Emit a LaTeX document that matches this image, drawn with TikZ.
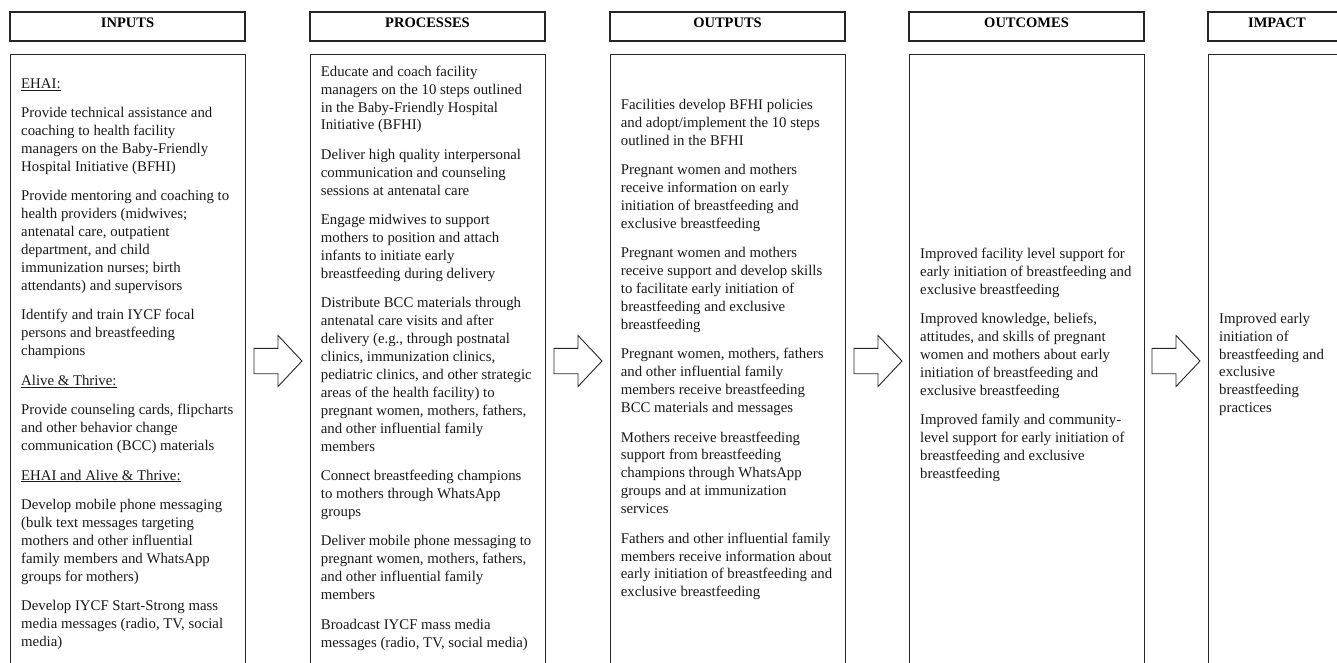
\documentclass[tikz,border=0pt]{standalone}
\usepackage{fontspec}
\setmainfont{Liberation Serif}
\newcommand{\pgap}{\\[11.6pt]}
\newcommand{\fl}{\rule{0pt}{10.5pt}}
\begin{document}
\begin{tikzpicture}[x=1pt,y=-1pt,
  hdr/.style={draw=black!85, line width=1.3pt, minimum width=235pt, minimum height=29pt, inner sep=0pt, text height=10pt, text depth=7pt, font=\bfseries\fontsize{14.5}{17}\selectfont},
  colbox/.style={draw=black!85, line width=1.3pt, minimum width=235pt, minimum height=700pt, anchor=north west, inner sep=0pt},
  body/.style={anchor=north west, align=left, inner sep=0pt, font=\fontsize{14.8}{17.9}\selectfont, text=black!90},
  blockarrow/.style={draw=black!85, line width=0.9pt},
  barrow/.pic={\draw[blockarrow] (0,-12.7) -- (24,-12.7) -- (24,-25.5) -- (48,0) -- (24,25.5) -- (24,12.7) -- (0,12.7) -- cycle;}
]
\useasboundingbox (0,0) rectangle (1337,663);
\clip (0,0) rectangle (1337,663);

% headers
\node[hdr] (h1) at (127.5,26.5) {INPUTS};
\node[hdr] (h2) at (427.5,26.5) {PROCESSES};
\node[hdr] (h3) at (727.5,26.5) {OUTPUTS};
\node[hdr] (h4) at (1026.5,26.5) {OUTCOMES};
\node[hdr, minimum width=138pt] (h5) at (1277,26.5) {IMPACT};

% column boxes
\node[colbox] (b1) at (10,54) {};
\node[colbox] (b2) at (310,54) {};
\node[colbox] (b3) at (610,54) {};
\node[colbox] (b4) at (909,54) {};
\node[colbox, minimum width=138pt] (b5) at (1208,54) {};

% arrows
\pic at (254,361) {barrow};
\pic at (554,361) {barrow};
\pic at (854,361) {barrow};
\pic at (1152,361) {barrow};

% texts
\node[body] (t1) at (21,77.5) {\fl\underline{EHAI:}\pgap
Provide technical assistance and\\
coaching to health facility\\
managers on the Baby-Friendly\\
Hospital Initiative (BFHI)\pgap
Provide mentoring and coaching to\\
health providers (midwives;\\
antenatal care, outpatient\\
department, and child\\
immunization nurses; birth\\
attendants) and supervisors\pgap
Identify and train IYCF focal\\
persons and breastfeeding\\
champions\pgap
\underline{Alive \& Thrive:}\pgap
Provide counseling cards, flipcharts\\
and other behavior change\\
communication (BCC) materials\pgap
\underline{EHAI and Alive \& Thrive:}\pgap
Develop mobile phone messaging\\
(bulk text messages targeting\\
mothers and other influential\\
family members and WhatsApp\\
groups for mothers)\pgap
Develop IYCF Start-Strong mass\\
media messages (radio, TV, social\\
media)};

\node[body] (t2) at (320.7,65.5) {\fl Educate and coach facility\\
managers on the 10 steps outlined\\
in the Baby-Friendly Hospital\\
Initiative (BFHI)\pgap
Deliver high quality interpersonal\\
communication and counseling\\
sessions at antenatal care\pgap
Engage midwives to support\\
mothers to position and attach\\
infants to initiate early\\
breastfeeding during delivery\pgap
Distribute BCC materials through\\
antenatal care visits and after\\
delivery (e.g., through postnatal\\
clinics, immunization clinics,\\
pediatric clinics, and other strategic\\
areas of the health facility) to\\
pregnant women, mothers, fathers,\\
and other influential family\\
members\pgap
Connect breastfeeding champions\\
to mothers through WhatsApp\\
groups\pgap
Deliver mobile phone messaging to\\
pregnant women, mothers, fathers,\\
and other influential family\\
members\pgap
Broadcast IYCF mass media\\
messages (radio, TV, social media)};

\node[body] (t3) at (620.7,98.5) {\fl Facilities develop BFHI policies\\
and adopt/implement the 10 steps\\
outlined in the BFHI\pgap
Pregnant women and mothers\\
receive information on early\\
initiation of breastfeeding and\\
exclusive breastfeeding\pgap
Pregnant women and mothers\\
receive support and develop skills\\
to facilitate early initiation of\\
breastfeeding and exclusive\\
breastfeeding\pgap
Pregnant women, mothers, fathers\\
and other influential family\\
members receive breastfeeding\\
BCC materials and messages\pgap
Mothers receive breastfeeding\\
support from breastfeeding\\
champions through WhatsApp\\
groups and at immunization\\
services\pgap
Fathers and other influential family\\
members receive information about\\
early initiation of breastfeeding and\\
exclusive breastfeeding};

\node[body] (t4) at (920,247.5) {\fl Improved facility level support for\\
early initiation of breastfeeding and\\
exclusive breastfeeding\pgap
Improved knowledge, beliefs,\\
attitudes, and skills of pregnant\\
women and mothers about early\\
initiation of breastfeeding and\\
exclusive breastfeeding\pgap
Improved family and community-\\
level support for early initiation of\\
breastfeeding and exclusive\\
breastfeeding};

\node[body] (t5) at (1219,312.5) {\fl Improved early\\
initiation of\\
breastfeeding and\\
exclusive\\
breastfeeding\\
practices};
\end{tikzpicture}
\end{document}
